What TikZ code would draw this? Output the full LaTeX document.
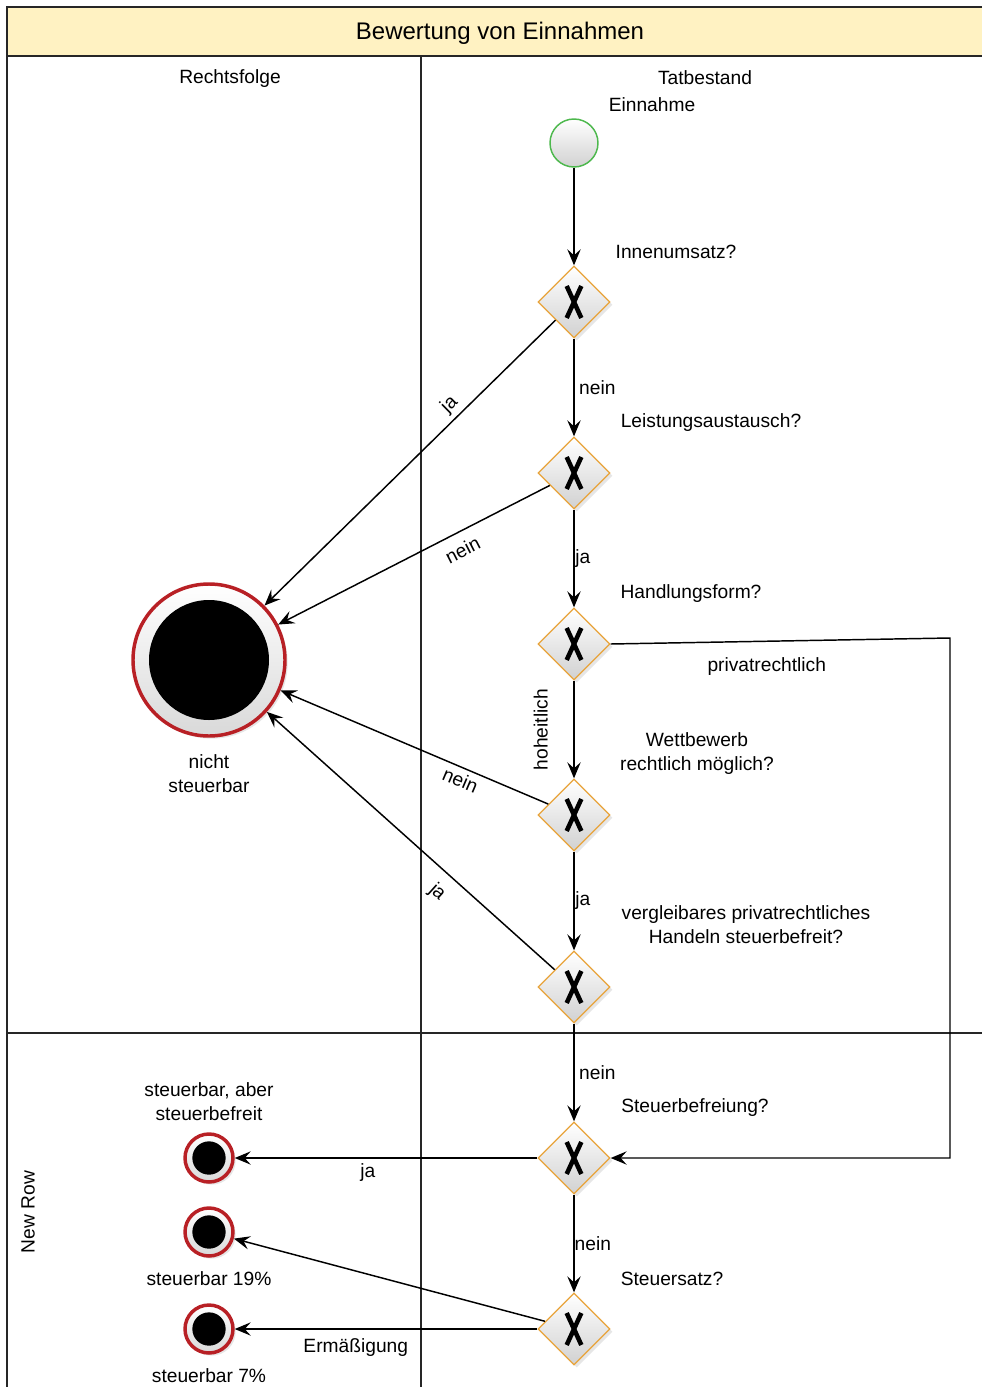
\documentclass[tikz,border=0pt]{standalone}
\usepackage{fontspec}
\setmainfont{Liberation Sans}
\usetikzlibrary{shapes.geometric,arrows.meta,shadows}
\definecolor{headfill}{HTML}{FFF2C2}
\definecolor{gateline}{HTML}{E8A33A}
\definecolor{startline}{HTML}{4DB84D}
\definecolor{endline}{HTML}{B82025}
\tikzset{
  lane/.style={line width=1.3pt, black!85},
  flow/.style={->, line width=1.1pt},
  gate/.style={diamond, aspect=1, draw=gateline, line width=1pt, minimum size=54pt, inner sep=0pt,
    top color=white, bottom color=black!18,
    drop shadow={opacity=0.2, shadow xshift=2pt, shadow yshift=-2pt},
    path picture={
      \draw[black, line width=3.4pt] ([xshift=-5.5pt,yshift=12pt]path picture bounding box.center)
        -- ([xshift=5.5pt,yshift=-12pt]path picture bounding box.center);
      \draw[black, line width=3.4pt] ([xshift=5.5pt,yshift=12pt]path picture bounding box.center)
        -- ([xshift=-5.5pt,yshift=-12pt]path picture bounding box.center);}},
  startev/.style={circle, draw=startline, line width=1.1pt, minimum size=36pt, inner sep=0pt,
    top color=white, bottom color=black!18},
  endev/.style 2 args={circle, draw=endline, line width=2.6pt, minimum size=#1, inner sep=0pt,
    top color=white, bottom color=black!15,
    drop shadow={opacity=0.2, shadow xshift=2pt, shadow yshift=-2pt},
    path picture={\fill[black] (path picture bounding box.center) circle (#2);}}
}
\begin{document}
\begin{tikzpicture}[x=0.75pt,y=-0.75pt,font=\fontsize{14.4}{18}\selectfont,
    >={Stealth[length=12pt,width=10pt,inset=4.5pt]}]
  \useasboundingbox (0,0) rectangle (982,1387);
  % pool and lanes
  \fill[headfill] (7,7) rectangle (982,56);
  \draw[lane] (982,7) -- (7,7) -- (7,1387);
  \draw[lane] (7,56) -- (982,56);
  \draw[lane] (421,56) -- (421,1387);
  \draw[lane] (7,1033) -- (982,1033);
  \path (500,33)   node[font=\fontsize{18}{22}\selectfont] (title) {Bewertung von Einnahmen}
        (230,79)   node (rf) {Rechtsfolge}
        (705,78)   node (tb) {Tatbestand}
        (28,1212)  node[rotate=90] (row) {New Row};

  % events and gateways
  \path (574,143)  node[startev] (start) {}
        (574,302)  node[gate] (innen) {}
        (574,473)  node[gate] (leist) {}
        (574,644)  node[gate] (handl) {}
        (574,815)  node[gate] (wettb) {}
        (574,987)  node[gate] (vergl) {}
        (574,1158) node[gate] (befr) {}
        (574,1329) node[gate] (satz) {}
        (209,660)  node[endev={114pt}{45pt}] (nst) {}
        (209,1158) node[endev={36pt}{12.5pt}] (sbf) {}
        (209,1232) node[endev={36pt}{12.5pt}] (s19) {}
        (209,1329) node[endev={36pt}{12.5pt}] (s7) {};
  \coordinate (knick) at (950,638);

  % texts beside the nodes
  \path (652,105)  node (lstart) {Einnahme}
        (676,252)  node (linnen) {Innenumsatz?}
        (711,423)  node (lleist) {Leistungsaustausch?}
        (691,594)  node (lhandl) {Handlungsform?}
        (697,754)  node[align=center] (lwettb) {Wettbewerb\\rechtlich möglich?}
        (746,925)  node[align=center] (lvergl) {vergleibares privatrechtliches\\Handeln steuerbefreit?}
        (695,1108) node (lbefr) {Steuerbefreiung?}
        (672,1279) node (lsatz) {Steuersatz?}
        (209,774)  node[align=center] (lnst) {nicht\\steuerbar}
        (209,1102) node[align=center] (lsbf) {steuerbar, aber\\steuerbefreit}
        (209,1279) node (ls19) {steuerbar 19\%}
        (209,1376) node (ls7) {steuerbar 7\%};

  % flows
  \draw[flow] (start) -- (innen);
  \draw[flow] (innen) -- node[right] {nein} (leist);
  \draw[flow] (innen) -- node[sloped, above, pos=0.33] {ja} (nst);
  \draw[flow] (leist) -- node[right, inner sep=0.5pt] {ja} (handl);
  \draw[flow] (leist) -- node[sloped, below=4pt, pos=0.35] {nein} (nst);
  \draw[flow] (handl) -- node[midway, xshift=-25pt, rotate=90] {hoheitlich} (wettb);
  \draw[flow] (handl.east) -- node[below=8pt, pos=0.46] {privatrechtlich} (knick) |- (befr.east);
  \draw[flow] (wettb) -- node[sloped, below, pos=0.31] {nein} (nst);
  \draw[flow] (wettb) -- node[right, inner sep=0.5pt] {ja} (vergl);
  \draw[flow] (vergl) -- node[sloped, below=5pt, pos=0.36] {ja} (nst);
  \draw[flow] (vergl) -- node[right] {nein} (befr);
  \draw[flow] (befr) -- node[below, pos=0.56] {ja} (sbf);
  \draw[flow] (befr) -- node[right, inner sep=0pt] {nein} (satz);
  \draw[flow] (satz) -- (s19);
  \draw[flow] (satz) -- node[below=3pt, pos=0.6] {Ermäßigung} (s7);
\end{tikzpicture}
\end{document}
